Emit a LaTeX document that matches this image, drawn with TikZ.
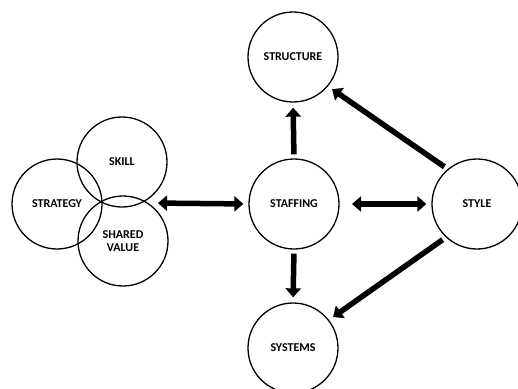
\documentclass[tikz,border=0pt]{standalone}
\usepackage{fontspec}
\setmainfont{Carlito}
\usetikzlibrary{arrows.meta}
\begin{document}
\begin{tikzpicture}[x=1pt,y=-1pt,
  circ/.style={circle,draw,line width=1.3pt,minimum size=90pt,inner sep=0pt,align=center,font=\bfseries\fontsize{12}{13.5}\selectfont},
  bigarrow/.style={line width=5.5pt,shorten <=4pt,shorten >=5pt,-{Triangle[length=9pt,width=15pt]}},
  bigdarrow/.style={line width=5.5pt,shorten <=5pt,shorten >=5pt,{Triangle[length=9pt,width=15pt]}-{Triangle[length=9pt,width=15pt]}}]
\useasboundingbox (0,0) rectangle (518,388);
\node[circ] (skill) at (122,162) {SKILL};
\node[circ] (strategy) at (57,204) {STRATEGY};
\node[circ] (shared) at (123,241) {SHARED\\VALUE};
\node[circ] (structure) at (293,57) {STRUCTURE};
\node[circ] (staffing) at (294,204) {STAFFING};
\node[circ] (style) at (477,204) {STYLE};
\node[circ] (systems) at (293,348) {SYSTEMS};
\coordinate (la) at (153,203);
\draw[bigdarrow] (la) -- (staffing.west);
\draw[bigarrow] (staffing.north) -- (structure.south);
\draw[bigarrow] (staffing.south) -- (systems.north);
\coordinate (se) at (347,204);
\draw[bigdarrow] (se) -- (style.west);
\draw[bigarrow] (style.130) -- (structure.-40);
\draw[bigarrow] (style.-133) -- (systems.38);
\end{tikzpicture}
\end{document}
